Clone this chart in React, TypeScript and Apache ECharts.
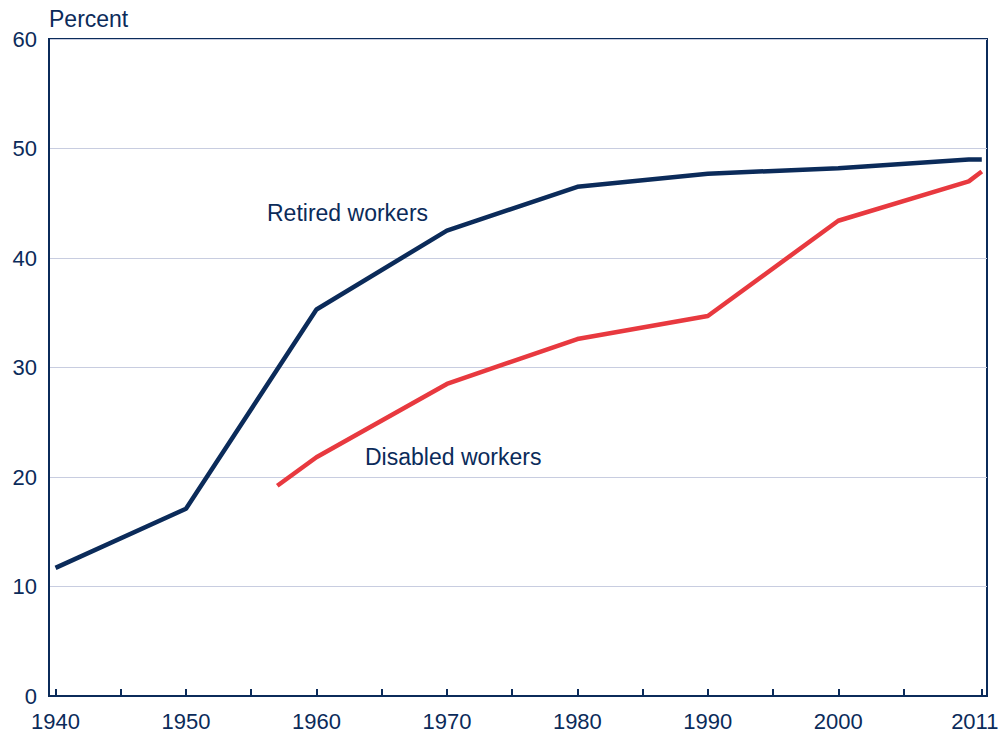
import React, { useEffect, useRef } from "react";
import * as echarts from "echarts";

const retiredYears = [1940, 1950, 1960, 1970, 1980, 1990, 2000, 2010, 2011];
const retiredValues = [11.7, 17.1, 35.3, 42.5, 46.5, 47.7, 48.2, 49.0, 49.0];
const disabledYears = [1957, 1960, 1970, 1980, 1990, 2000, 2010, 2011];
const disabledValues = [19.2, 21.8, 28.5, 32.6, 34.7, 43.4, 47.0, 47.9];
const xTickValues = [1940, 1945, 1950, 1955, 1960, 1965, 1970, 1975, 1980, 1985, 1990, 1995, 2000, 2005, 2011];
const xLabelValues = [1940, 1950, 1960, 1970, 1980, 1990, 2000, 2011];
const yTicks = [0, 10, 20, 30, 40, 50, 60];

const NAVY = "#0b2b5a";
const RED = "#e8393f";
const FONT = "Liberation Sans, Arial, sans-serif";

export default function App() {
  const ref = useRef<HTMLDivElement>(null);
  useEffect(() => {
    if (!ref.current) return;
    const chart = echarts.init(ref.current, undefined, { renderer: "svg" });
    chart.setOption({
      animation: false,
      grid: {
        left: 49,
        right: 14,
        top: 39,
        bottom: 39,
        show: true,
        borderColor: NAVY,
        borderWidth: 2,
        backgroundColor: "transparent",
        containLabel: false,
        outerBoundsMode: "none",
      },
      xAxis: {
        type: "value",
        min: 1939.5,
        max: 2011.4,
        axisLine: { show: true, lineStyle: { color: NAVY, width: 2 } },
        axisTick: {
          show: true,
          inside: true,
          length: 7,
          customValues: xTickValues,
          lineStyle: { color: NAVY, width: 2 },
        },
        axisLabel: {
          customValues: xLabelValues,
          color: NAVY,
          fontSize: 22,
          fontFamily: FONT,
          margin: 14,
          hideOverlap: false,
          formatter: (v: number) => (v === 2011 ? "{last|" + v + "}" : String(v)),
          rich: {
            last: {
              color: NAVY,
              fontSize: 22,
              fontFamily: FONT,
              padding: [0, 14, 0, 0],
            },
          },
        },
        splitLine: { show: false },
      },
      yAxis: {
        type: "value",
        min: 0,
        max: 60,
        interval: 10,
        axisLine: { show: true, lineStyle: { color: NAVY, width: 2 } },
        axisTick: { show: false },
        axisLabel: {
          color: NAVY,
          fontSize: 22,
          fontFamily: FONT,
          margin: 12,
          customValues: yTicks,
        },
        splitLine: { show: true, lineStyle: { color: "#c8cde0", width: 1 } },
      },
      graphic: [
        {
          type: "text",
          x: 49,
          y: 19,
          style: { text: "Percent", fill: NAVY, fontSize: 23, fontFamily: FONT, textAlign: "left", textVerticalAlign: "middle" },
        },
        {
          type: "text",
          x: 267,
          y: 213,
          style: { text: "Retired workers", fill: NAVY, fontSize: 23, fontFamily: FONT, textAlign: "left", textVerticalAlign: "middle" },
        },
        {
          type: "text",
          x: 365,
          y: 457,
          style: { text: "Disabled workers", fill: NAVY, fontSize: 23, fontFamily: FONT, textAlign: "left", textVerticalAlign: "middle" },
        },
      ],
      series: [
        {
          name: "Retired workers",
          type: "line",
          data: retiredYears.map((y, i) => [y, retiredValues[i]]),
          showSymbol: false,
          lineStyle: { color: NAVY, width: 4.5 },
          z: 3,
        },
        {
          name: "Disabled workers",
          type: "line",
          data: disabledYears.map((y, i) => [y, disabledValues[i]]),
          showSymbol: false,
          lineStyle: { color: RED, width: 4.5 },
          z: 2,
        },
      ],
    });
    return () => chart.dispose();
  }, []);
  return <div ref={ref} style={{ width: 1001, height: 735, position: "absolute", left: 0, top: 0 }} />;
}
